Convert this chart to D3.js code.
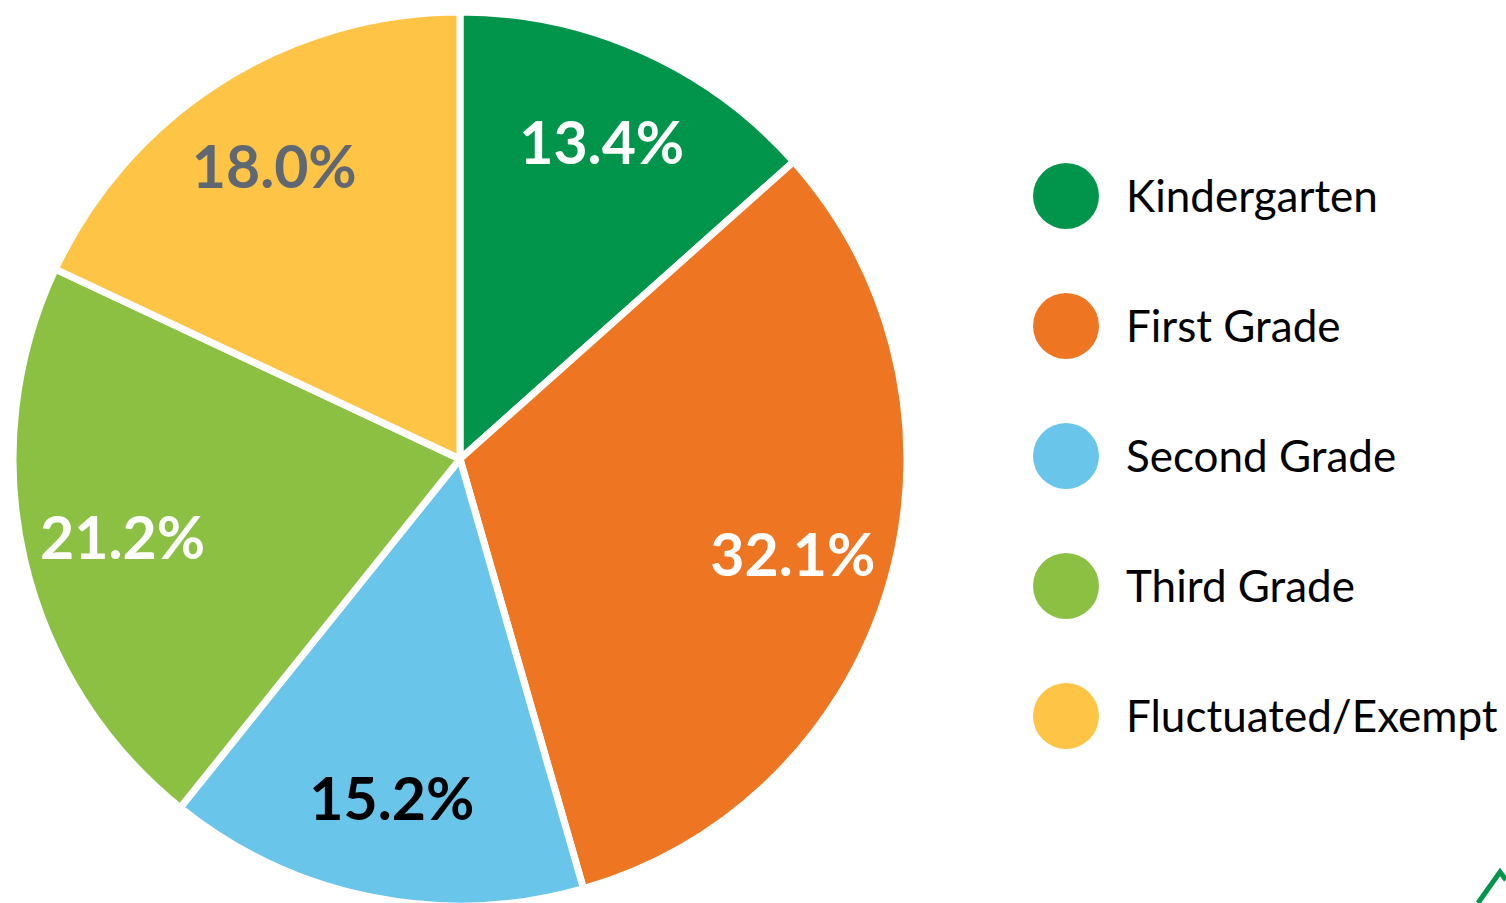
<!DOCTYPE html>
<html>
<head>
<meta charset="utf-8">
<script src="https://cdn.jsdelivr.net/npm/d3@7"></script>
<style>
  html, body { margin: 0; padding: 0; background: #fff; }
  svg { display: block; }
</style>
</head>
<body>
<div id="chart"></div>
<script>
const categories = ['Kindergarten', 'First Grade', 'Second Grade', 'Third Grade', 'Fluctuated/Exempt'];
const values = [13.4, 32.1, 15.2, 21.2, 18.0];
const labels = ['13.4%', '32.1%', '15.2%', '21.2%', '18.0%'];
const sliceColors = ['#00954a', '#ee7623', '#6ac5ea', '#8bc043', '#fec445'];
const labelColors = ['#ffffff', '#ffffff', '#000000', '#ffffff', '#5f6772'];

const width = 1506;
const height = 903;
const cx = 460;
const cy = 459;
const radius = 447;

const svg = d3.select('#chart').append('svg')
  .attr('width', width)
  .attr('height', height);

const data = categories.map((c, i) => ({ name: c, value: values[i], label: labels[i], i }));

const pie = d3.pie().sort(null).value(d => d.value);
const arc = d3.arc().innerRadius(0).outerRadius(radius);
const labelArc = d3.arc().innerRadius(radius * 0.775).outerRadius(radius * 0.775);

const g = svg.append('g').attr('transform', `translate(${cx},${cy})`);

const arcs = pie(data);

g.selectAll('path')
  .data(arcs)
  .enter()
  .append('path')
  .attr('d', arc)
  .attr('fill', d => sliceColors[d.data.i])
  .attr('stroke', '#fff')
  .attr('stroke-width', 7)
  .attr('stroke-linejoin', 'round');

g.selectAll('text.pct')
  .data(arcs)
  .enter()
  .append('text')
  .attr('class', 'pct')
  .attr('transform', d => `translate(${labelArc.centroid(d)})`)
  .attr('text-anchor', 'middle')
  .attr('dy', '0.36em')
  .style('font-family', 'Lato, "Open Sans", sans-serif')
  .style('font-weight', 'bold')
  .style('font-size', '59px')
  .attr('fill', d => labelColors[d.data.i])
  .text(d => d.data.label);

// legend
const legend = svg.append('g').attr('transform', 'translate(1066,196)');
const rows = legend.selectAll('g')
  .data(data)
  .enter()
  .append('g')
  .attr('transform', (d, i) => `translate(0,${i * 130})`);

rows.append('circle')
  .attr('r', 33)
  .attr('fill', d => sliceColors[d.i]);

rows.append('text')
  .attr('x', 60)
  .attr('dy', '0.36em')
  .style('font-family', 'Lato, "Open Sans", sans-serif')
  .style('font-size', '44px')
  .attr('fill', '#000')
  .text(d => d.name);

// corner logo fragment
svg.append('path')
  .attr('d', 'M1478,903 L1500,872 L1506,880')
  .attr('fill', 'none')
  .attr('stroke', '#00954a')
  .attr('stroke-width', 5);
</script>
</body>
</html>
